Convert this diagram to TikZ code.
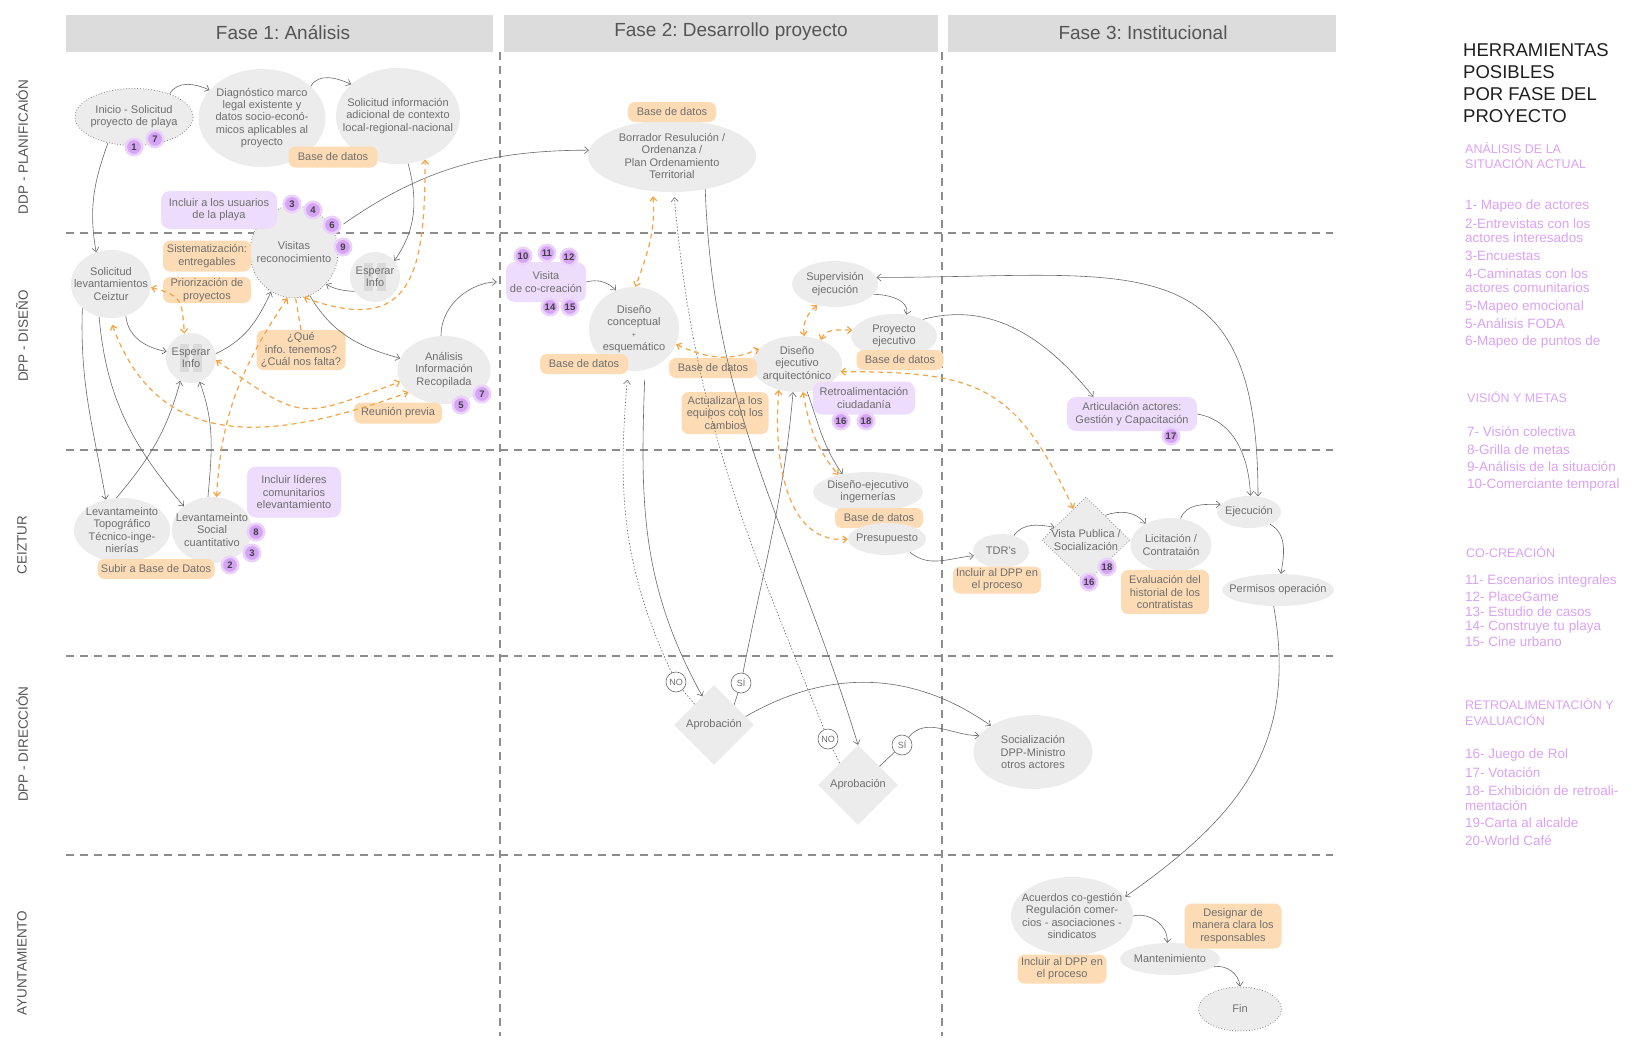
\documentclass[tikz,border=0pt]{standalone}
\usepackage{fontspec}
\setmainfont{Liberation Sans}
\usetikzlibrary{shapes.geometric,arrows.meta}
\frenchspacing
\definecolor{elfill}{HTML}{ECECEC}
\definecolor{txt}{HTML}{6E6E6E}
\definecolor{orf}{HTML}{FDDCB5}
\definecolor{puf}{HTML}{EDDCFB}
\definecolor{bdg}{HTML}{D6A4F6}
\definecolor{bdgh}{HTML}{EBD2FA}
\definecolor{lnc}{HTML}{6A6A6A}
\definecolor{orl}{HTML}{F6A443}
\definecolor{lanec}{HTML}{8C8C8C}
\definecolor{hdr}{HTML}{DCDCDC}
\definecolor{hdrt}{HTML}{555555}
\definecolor{lstc}{HTML}{DCA2F5}
\definecolor{pausec}{HTML}{DADADA}
\pgfdeclarelayer{bg}
\pgfdeclarelayer{conn}
\pgfdeclarelayer{top}
\pgfsetlayers{bg,main,conn,top}
\newcommand{\nf}{\fontsize{11}{12.2}\selectfont}
\tikzset{
  lbl/.style={font=\nf, text=txt, align=center, inner sep=0pt},
  el/.style n args={3}{ellipse, fill=elfill, inner sep=0pt, minimum width=#1, minimum height=#2, label={[lbl]center:{#3}}},
  dmd/.style n args={3}{diamond, fill=elfill, inner sep=0pt, minimum width=#1, minimum height=#2, label={[lbl]center:{#3}}},
  dotb/.style={draw=black!55, line width=1pt, dash pattern=on 0pt off 2.8pt, line cap=round},
  obox/.style 2 args={rectangle, rounded corners=7pt, fill=orf, inner sep=0pt, minimum width=#1, minimum height=#2, font=\nf, text=txt, align=center},
  pbox/.style 2 args={rectangle, rounded corners=9pt, fill=puf, inner sep=0pt, minimum width=#1, minimum height=#2, font=\nf, text=txt, align=center},
  badge/.style={circle, fill=bdg, draw=bdgh, line width=2.5pt, minimum size=16.5pt, inner sep=0pt, font=\bfseries\fontsize{9.5}{10}\selectfont, text=black!75},
  yn/.style={circle, draw=lnc, fill=white, line width=0.6pt, minimum size=20pt, inner sep=0pt, font=\fontsize{9}{9}\selectfont, text=txt},
  arr/.style={draw=lnc, line width=0.6pt, -{Straight Barb[length=4pt,width=7pt]}},
  arrb/.style={draw=lnc, line width=0.6pt, {Straight Barb[length=4pt,width=7pt]}-{Straight Barb[length=4pt,width=7pt]}},
  darr/.style={draw=lnc, line width=0.6pt, dash pattern=on 1.5pt off 1.8pt, -{Straight Barb[length=4pt,width=7pt]}},
  oarr/.style={draw=orl, line width=1.2pt, dash pattern=on 5pt off 4pt, {Straight Barb[length=4pt,width=7pt]}-{Straight Barb[length=4pt,width=7pt]}},
  oline/.style={draw=orl, line width=1.2pt, dash pattern=on 5pt off 4pt},
  laneline/.style={draw=lanec, line width=1.1pt, dash pattern=on 8pt off 6pt},
  lanelbl/.style={rotate=90, font=\fontsize{13.5}{14}\selectfont, text=hdrt},
  hdrtxt/.style={font=\fontsize{19}{20}\selectfont, text=hdrt},
  ttl/.style={anchor=west, inner sep=0pt, font=\fontsize{18.5}{20}\selectfont, text=black!88},
  lsthd/.style={anchor=west, inner sep=0pt, font=\fontsize{12.5}{14}\selectfont, text=lstc},
  lstit/.style={anchor=west, inner sep=0pt, font=\fontsize{13.5}{15}\selectfont, text=lstc},
  pausebars/.style={path picture={
    \fill[pausec] ([shift={(-11pt,-14pt)}]path picture bounding box.center) rectangle ([shift={(-2pt,14pt)}]path picture bounding box.center);
    \fill[pausec] ([shift={(2pt,-14pt)}]path picture bounding box.center) rectangle ([shift={(11pt,14pt)}]path picture bounding box.center);}},
}
\begin{document}
\begin{tikzpicture}[x=1pt,y=1pt]
\useasboundingbox (0,0) rectangle (1638,-1041);
\begin{pgfonlayer}{bg}
\fill[white] (0,0) rectangle (1638,-1041);
\fill[hdr] (66,-15) rectangle (493,-52);
\fill[hdr] (504,-15) rectangle (938,-52);
\fill[hdr] (948,-15) rectangle (1336,-52);
\foreach \yy in {233,450,656,855} {\draw[laneline] (66,-\yy) -- (1333,-\yy);}
\draw[laneline] (500,-52) -- (500,-1036);
\draw[laneline] (942,-52) -- (942,-1036);
\end{pgfonlayer}
% headers and lanes
\node[hdrtxt] (h1) at (283,-33) {Fase 1: Análisis};
\node[hdrtxt] (h2) at (731,-32) {Fase 2: Desarrollo proyecto};
\node[hdrtxt] (h3) at (1143,-33) {Fase 3: Institucional};
\node[lanelbl] (l1) at (22,-147) {DDP - PLANIFICAIÓN};
\node[lanelbl] (l2) at (22,-336) {DPP - DISEÑO};
\node[lanelbl] (l3) at (22,-545) {CEIZTUR};
\node[lanelbl] (l4) at (22,-744) {DPP - DIRECCIÓN};
\node[lanelbl] (l5) at (22,-963) {AYUNTAMIENTO};
% ellipses
\node[el={118}{57}{Inicio - Solicitud\\proyecto de playa}, dotb] (inicio) at (134,-117) {};
\node[el={127}{98}{Diagnóstico marco\\legal existente y\\datos socio-econó-\\micos aplicables al\\proyecto}] (diag) at (262,-118) {};
\node[el={124}{96}{Solicitud información\\adicional de contexto\\local-regional-nacional}] (solinfo) at (398,-116) {};
\node[el={168}{72}{Borrador Resulución /\\Ordenanza /\\Plan Ordenamiento\\Territorial}] (borr) at (672,-156) {};
\node[el={88}{92}{Visitas\\reconocimiento}, dotb] (visitas) at (294,-252) {};
\node[el={50}{50}{Esperar\\Info}, pausebars] (esp2) at (375,-277) {};
\node[el={80}{68}{Solicitud\\levantamientos\\Ceiztur}] (solev) at (111,-284) {};
\node[el={50}{50}{Esperar\\Info}, pausebars] (esp1) at (191,-358) {};
\node[el={93}{68}{Análisis\\Información\\Recopilada}] (anal) at (444,-370) {};
\node[el={90}{84}{Diseño\\conceptual\\{\fontsize{7}{7}\selectfont +}\\esquemático}] (dcon) at (634,-329) {};
\node[el={90}{56}{Diseño\\ejecutivo\\arquitectónico}] (dejec) at (797,-364) {};
\node[el={86}{46}{Supervisión\\ejecución}] (superv) at (835,-284) {};
\node[el={86}{44}{Proyecto\\ejecutivo}] (proyej) at (894,-336) {};
\node[el={110}{40}{Diseño-ejecutivo\\ingernerías}] (ingen) at (868,-492) {};
\node[el={96}{64}{Levantameinto\\Topográfico\\Técnico-inge-\\nierías}] (topo) at (122,-530) {};
\node[el={80}{66}{Levantameinto\\Social\\cuantitativo}] (social) at (212,-530) {};
\node[el={56}{34}{TDR's}] (tdr) at (1001,-551) {};
\node[el={81}{54}{Licitación /\\Contrataión}] (licit) at (1171,-545) {};
\node[el={64}{32}{Ejecución}] (ejec) at (1249,-512) {};
\node[el={112}{32}{Permisos operación}] (permisos) at (1278,-590) {};
\node[el={119}{74}{Socialización\\DPP-Ministro\\otros actores}] (socdpp) at (1033,-752) {};
\node[el={122}{78}{Acuerdos co-gestión\\Regulación comer-\\cios - asociaciones -\\sindicatos}] (acuerdos) at (1072,-916) {};
\node[el={100}{32}{Mantenimiento}] (mant) at (1170,-959) {};
\node[el={83}{44}{Fin}, dotb] (fin) at (1240,-1009) {};
\node[dmd={80}{80}{Aprobación}] (aprob1) at (714,-725) {};
\node[dmd={80}{80}{Aprobación}] (aprob2) at (858,-785) {};
\node[dmd={88}{86}{Vista Publica /\\Socialización}, dotb] (vista) at (1086,-540) {};
% orange boxes
\node[obox={89}{21}] (bd1) at (333,-157) {Base de datos};
\node[obox={88}{31}] (sist) at (207,-256) {Sistematización:\\entregables};
\node[obox={88}{26}] (prior) at (207,-290) {Priorización de\\proyectos};
\node[obox={89}{40}] (que) at (301,-350) {¿Qué\\info. tenemos?\\¿Cuál nos falta?};
\node[obox={88}{21}] (reun) at (398,-413) {Reunión previa};
\node[obox={117}{20}] (subir) at (156,-569) {Subir a Base de Datos};
\node[obox={88}{20}] (bd2) at (672,-112) {Base de datos};
\node[obox={88}{20}] (bd3) at (584,-364) {Base de datos};
\node[obox={88}{20}] (bd4) at (713,-368) {Base de datos};
\node[obox={87}{20}] (bd5) at (900,-360) {Base de datos};
\node[obox={87}{42}] (actual) at (725,-413) {Actualizar a los\\equipos con los\\cambios};
\node[obox={88}{20}] (bd6) at (879,-518) {Base de datos};
\node[el={78}{32}{Presupuesto}] (presup) at (887,-539) {};
\node[obox={88}{27}] (incl1) at (997,-580) {Incluir al DPP en\\el proceso};
\node[obox={88}{44}] (evalu) at (1165,-592) {Evaluación del\\historial de los\\contratistas};
\node[obox={89}{29}] (incl2) at (1062,-969) {Incluir al DPP en\\el proceso};
\node[obox={97}{45}] (desig) at (1233,-926) {Designar de\\manera clara los\\responsables};
% purple boxes
\node[pbox={116}{38}] (usu) at (219,-210) {Incluir a los usuarios\\de la playa};
\node[pbox={94}{51}] (lideres) at (294,-492) {Incluir líderes\\comunitarios\\elevantamiento};
\node[pbox={80}{40}] (visco) at (546,-282) {Visita\\de co-creación};
\node[pbox={102}{33}] (retro) at (864,-398) {Retroalimentación\\ciudadanía};
\node[pbox={130}{34}] (artic) at (1132,-414) {Articulación actores:\\Gestión y Capacitación};
% top layer: badges and yes/no
\begin{pgfonlayer}{top}
\node[badge] (bA1) at (134,-147) {1};
\node[badge] (bA7) at (155,-139) {7};
\node[badge] (bB3) at (292,-204) {3};
\node[badge] (bB4) at (313,-210) {4};
\node[badge] (bB6) at (332,-225) {6};
\node[badge] (bB9) at (343,-247) {9};
\node[badge] (bC7) at (482,-394) {7};
\node[badge] (bC5) at (461,-405) {5};
\node[badge] (bD8) at (256,-532) {8};
\node[badge] (bD3) at (252,-553) {3};
\node[badge] (bD2) at (230,-565) {2};
\node[badge] (bE10) at (523,-256) {10};
\node[badge] (bE11) at (547,-253) {11};
\node[badge] (bE12) at (569,-257) {12};
\node[badge] (bE14) at (550,-307) {14};
\node[badge] (bE15) at (570,-307) {15};
\node[badge] (bF16) at (841,-421) {16};
\node[badge] (bF18) at (866,-421) {18};
\node[badge] (bG18) at (1107,-567) {18};
\node[badge] (bG16) at (1089,-582) {16};
\node[badge] (bH17) at (1171,-436) {17};
\node[yn] (no1) at (676,-682) {NO};
\node[yn] (si1) at (741,-683) {SÍ};
\node[yn] (no2) at (828,-739) {NO};
\node[yn] (si2) at (902,-745) {SÍ};
\end{pgfonlayer}
% connectors
\begin{pgfonlayer}{conn}
\draw[arr] (inicio.33) to[out=60,in=155] (diag.152);
\draw[arr] (diag.33) to[out=60,in=155] (solinfo.146);
\draw[arr] (inicio.225) to[out=250,in=100] (solev.115);
\draw[arr] (solinfo.282) to[out=285,in=55] (esp2.40);
\draw[arr] (esp2.215) to[out=175,in=330] (visitas.315);
\draw[arr, shorten <=12pt] (visitas.28) to[out=35,in=180] (borr.176);
\draw[arr] (visitas.290) to[out=300,in=165] (anal.165);
\draw[arr] (solev.295) to[out=275,in=170] (esp1.165);
\draw[arr] (esp1.10) to[out=25,in=245] (visitas.240);
\draw[arr] (solev.220) to[out=268,in=100] (topo.118);
\draw[arr] (solev.250) to[out=275,in=130] (social.140);
\draw[arr] (topo.100) to[out=50,in=255] (esp1.245);
\draw[arr] (social.97) to[out=85,in=290] (esp1.290);
\draw[arr, shorten >=9pt] (anal.95) to[out=90,in=180] (visco.west);
\draw[arr] (visco.east) to[out=15,in=135] (dcon.115);
\draw[arr] (borr.315) to[out=272,in=107] (aprob2.north);
\draw[darr, shorten >=5pt] (aprob2.130) -- (no2) to[out=112,in=275] (borr.273);
\draw[arr, shorten <=10pt] (dcon.285) to[out=268,in=119] (aprob1.112);
\draw[darr, shorten >=9pt] (aprob1.133) -- (no1) to[out=115,in=265] (dcon.262);
\draw[arr] (aprob1.45) -- (si1) to[out=79,in=265] (dejec.262);
\draw[arr] (dejec.290) to[out=290,in=125] (ingen.145);
\draw[arr] (superv.345) to[out=0,in=75] (proyej.60);
\draw[arr] (proyej.30) to[out=15,in=129] (artic.156);
\draw[arrb] (superv.9) to[out=0,in=90,looseness=1.5] (ejec.60);
\draw[arr] (artic.east) to[out=-10,in=92] (ejec.85);
\draw[arr] (presup.330) to[out=-40,in=185] (tdr.190);
\draw[arr] (tdr.50) to[out=55,in=170] (vista.158);
\draw[arr] (vista.52) to[out=20,in=130] (licit.140);
\draw[arr] (licit.70) to[out=70,in=180] (ejec.165);
\draw[arr] (ejec.330) to[out=-30,in=80] (permisos.80);
\draw[arr] (permisos.255) to[out=280,in=35,looseness=1.1] (acuerdos.20);
\draw[arr] (aprob1.15) to[out=30,in=145] (socdpp.148);
\draw[arr] (aprob2.41) -- (si2) to[out=50,in=180] (socdpp.163);
\draw[arr] (acuerdos.0) to[out=15,in=85] (mant.100);
\draw[arr] (mant.350) to[out=10,in=95] (fin.north);
% orange dashed
\draw[oarr] (visitas.282) to[out=-20,in=270,looseness=1.6] (solinfo.302);
\draw[oline] (visitas.272) -- (que.north);
\draw[oarr] (solev.355) to[out=-15,in=95,looseness=1.5] (esp1.105);
\draw[oarr, shorten <=7pt] (solev.268) to[out=290,in=200,looseness=1.2] (anal.212);
\draw[oarr] (esp1.355) to[out=-35,in=200,looseness=1.5] (anal.195);
\draw[oarr] (visitas.262) to[out=236,in=87] (social.82);
\draw[oarr, shorten <=5pt] (borr.241) to[out=275,in=70] (dcon.88);
\draw[oarr] (dcon.340) to[out=-25,in=205] (dejec.158);
\draw[oarr] (superv.230) to[out=220,in=100] (dejec.75);
\draw[oarr] (dejec.45) to[out=70,in=180] (proyej.172);
\draw[oarr] (dejec.350) to[out=0,in=115,looseness=1.3] (vista.112);
\draw[oarr] (dejec.282) to[out=280,in=130] (ingen.150);
\draw[oarr] (dejec.235) to[out=265,in=185] (presup.180);
\end{pgfonlayer}
% right column
\node[ttl] (t1) at (1463,-50) {HERRAMIENTAS};
\node[ttl] (t2) at (1463,-72) {POSIBLES};
\node[ttl] (t3) at (1463,-94) {POR FASE DEL};
\node[ttl] (t4) at (1463,-116) {PROYECTO};
\node[lsthd] (r1) at (1465,-148) {ANÁLISIS DE LA};
\node[lsthd] (r2) at (1465,-163) {SITUACIÓN ACTUAL};
\node[lstit] (r3) at (1465,-206) {1- Mapeo de actores};
\node[lstit] (r4) at (1465,-224) {2-Entrevistas con los};
\node[lstit] (r5) at (1465,-238) {actores interesados};
\node[lstit] (r6) at (1465,-256) {3-Encuestas};
\node[lstit] (r7) at (1465,-274) {4-Caminatas con los};
\node[lstit] (r8) at (1465,-288) {actores comunitarios};
\node[lstit] (r9) at (1465,-307) {5-Mapeo emocional};
\node[lstit] (r10) at (1465,-324) {5-Análisis FODA};
\node[lstit] (r11) at (1465,-342) {6-Mapeo de puntos de};
\node[lsthd] (r12) at (1467,-397) {VISIÓN Y METAS};
\node[lstit] (r13) at (1467,-432) {7- Visión colectiva};
\node[lstit] (r14) at (1467,-450) {8-Grilla de metas};
\node[lstit] (r15) at (1467,-467) {9-Análisis de la situación};
\node[lstit] (r16) at (1467,-485) {10-Comerciante temporal};
\node[lsthd] (r17) at (1466,-552) {CO-CREACIÓN};
\node[lstit] (r18) at (1465,-581) {11- Escenarios integrales};
\node[lstit] (r19) at (1465,-597) {12- PlaceGame};
\node[lstit] (r20) at (1465,-612) {13- Estudio de casos};
\node[lstit] (r21) at (1465,-627) {14- Construye tu playa};
\node[lstit] (r22) at (1465,-642) {15- Cine urbano};
\node[lsthd] (r23) at (1465,-704) {RETROALIMENTACIÓN Y};
\node[lsthd] (r24) at (1465,-720) {EVALUACIÓN};
\node[lstit] (r25) at (1465,-755) {16- Juego de Rol};
\node[lstit] (r26) at (1465,-773) {17- Votación};
\node[lstit] (r27) at (1465,-791) {18- Exhibición de retroali-};
\node[lstit] (r28) at (1465,-806) {mentación};
\node[lstit] (r29) at (1465,-823) {19-Carta al alcalde};
\node[lstit] (r30) at (1465,-841) {20-World Café};
\end{tikzpicture}
\end{document}
